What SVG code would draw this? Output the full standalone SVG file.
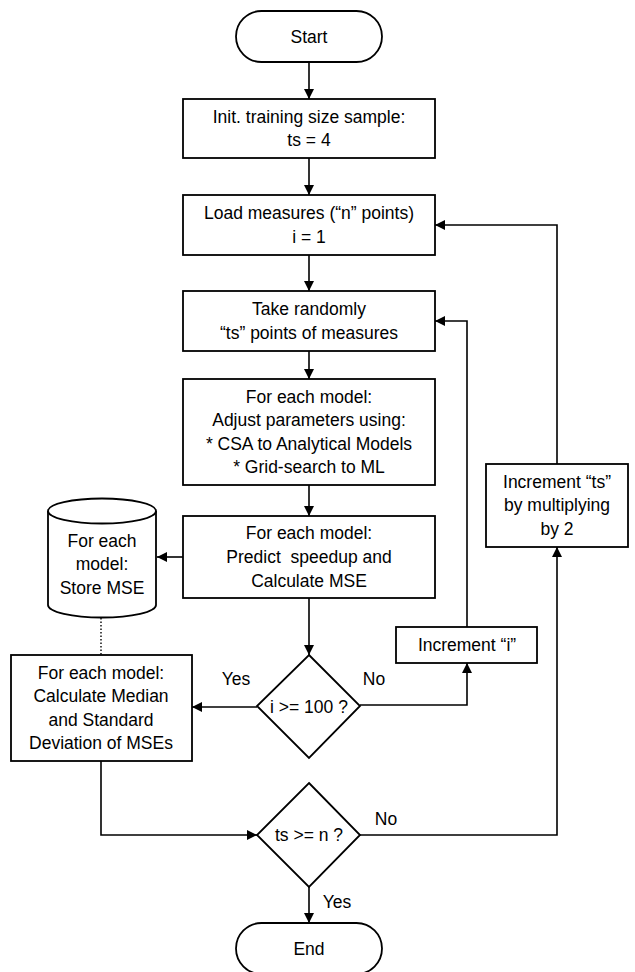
<svg xmlns="http://www.w3.org/2000/svg" width="635" height="972" viewBox="0 0 635 972">
<style>
.n{fill:#fff;stroke:#000;stroke-width:1.8}
.t{font-family:"Liberation Sans",Arial,sans-serif;font-size:17.5px;fill:#000;text-anchor:middle;dominant-baseline:central}
.c{fill:none;stroke:#000;stroke-width:1.6}
.d{fill:none;stroke:#000;stroke-width:1.4;stroke-dasharray:1.5 2}
</style>
<defs>
<marker id="a" viewBox="0 0 10 10" refX="10" refY="5" markerWidth="10" markerHeight="10" markerUnits="userSpaceOnUse" orient="auto">
<path d="M0,0 L10,5 L0,10 Z" fill="#000"/>
</marker>
</defs>
<rect width="635" height="972" fill="#fff"/>
<g id="connectors">
<line class="c" x1="309" y1="62" x2="309" y2="99" marker-end="url(#a)"/>
<line class="c" x1="309" y1="158" x2="309" y2="195" marker-end="url(#a)"/>
<line class="c" x1="309" y1="255" x2="309" y2="291" marker-end="url(#a)"/>
<line class="c" x1="309" y1="351" x2="309" y2="379" marker-end="url(#a)"/>
<line class="c" x1="309" y1="485" x2="309" y2="516" marker-end="url(#a)"/>
<line class="c" x1="183" y1="557" x2="157" y2="557" marker-end="url(#a)"/>
<line class="d" x1="101" y1="618" x2="101" y2="655"/>
<line class="c" x1="309" y1="598" x2="309" y2="655" marker-end="url(#a)"/>
<line class="c" x1="257" y1="707" x2="192" y2="707" marker-end="url(#a)"/>
<polyline class="c" points="360,705 467,705 467,663" marker-end="url(#a)"/>
<polyline class="c" points="467,627 467,321 435,321" marker-end="url(#a)"/>
<polyline class="c" points="101,761 101,835 257,835" marker-end="url(#a)"/>
<polyline class="c" points="360,835 557,835 557,547" marker-end="url(#a)"/>
<polyline class="c" points="557,464 557,225 435,225" marker-end="url(#a)"/>
<line class="c" x1="309" y1="887" x2="309" y2="923" marker-end="url(#a)"/>
<text class="t" x="236" y="679">Yes</text>
<text class="t" x="374" y="679">No</text>
<text class="t" x="386" y="819">No</text>
<text class="t" x="337" y="902">Yes</text>
</g>
<g id="start">
<rect class="n" x="236" y="11" width="146" height="51" rx="25.5"/>
<text class="t" x="309" y="37">Start</text>
</g>
<g id="init">
<rect class="n" x="183" y="99" width="252" height="59"/>
<text class="t" x="309" y="117">Init. training size sample:</text>
<text class="t" x="309" y="140">ts = 4</text>
</g>
<g id="load">
<rect class="n" x="183" y="195" width="252" height="60"/>
<text class="t" x="309" y="213">Load measures (“n” points)</text>
<text class="t" x="309" y="237">i = 1</text>
</g>
<g id="take">
<rect class="n" x="183" y="291" width="252" height="60"/>
<text class="t" x="309" y="309">Take randomly</text>
<text class="t" x="309" y="333">“ts” points of measures</text>
</g>
<g id="adjust">
<rect class="n" x="183" y="379" width="252" height="106"/>
<text class="t" x="309" y="397">For each model:</text>
<text class="t" x="309" y="420">Adjust parameters using:</text>
<text class="t" x="309" y="444">* CSA to Analytical Models</text>
<text class="t" x="309" y="467">* Grid-search to ML</text>
</g>
<g id="predict">
<rect class="n" x="183" y="516" width="252" height="82"/>
<text class="t" x="309" y="533">For each model:</text>
<text class="t" x="309" y="557" xml:space="preserve">Predict  speedup and</text>
<text class="t" x="309" y="581">Calculate MSE</text>
</g>
<g id="store">
<path class="n" d="M48,511 L48,605 A54,12.5 0 0 0 156,605 L156,511 A54,12.5 0 0 0 48,511 Z"/>
<path class="n" d="M48,511 A54,12.5 0 0 0 156,511" fill="none"/>
<text class="t" x="102" y="541">For each</text>
<text class="t" x="102" y="564">model:</text>
<text class="t" x="102" y="588">Store MSE</text>
</g>
<g id="stats">
<rect class="n" x="11" y="655" width="181" height="106"/>
<text class="t" x="101" y="673">For each model:</text>
<text class="t" x="101" y="696">Calculate Median</text>
<text class="t" x="101" y="720">and Standard</text>
<text class="t" x="101" y="743">Deviation of MSEs</text>
</g>
<g id="cond-i">
<polygon class="n" points="309,655 360,706 309,758 257,706"/>
<text class="t" x="309" y="707">i &gt;= 100 ?</text>
</g>
<g id="inc-i">
<rect class="n" x="396" y="627" width="141" height="36"/>
<text class="t" x="467" y="645">Increment “i”</text>
</g>
<g id="inc-ts">
<rect class="n" x="486" y="464" width="142" height="83"/>
<text class="t" x="557" y="482">Increment “ts”</text>
<text class="t" x="557" y="505">by multiplying</text>
<text class="t" x="557" y="529">by 2</text>
</g>
<g id="cond-ts">
<polygon class="n" points="309,783 360,835 309,887 257,835"/>
<text class="t" x="309" y="835">ts &gt;= n ?</text>
</g>
<g id="end">
<rect class="n" x="236" y="923" width="146" height="51" rx="25.5"/>
<text class="t" x="309" y="949">End</text>
</g>
</svg>
